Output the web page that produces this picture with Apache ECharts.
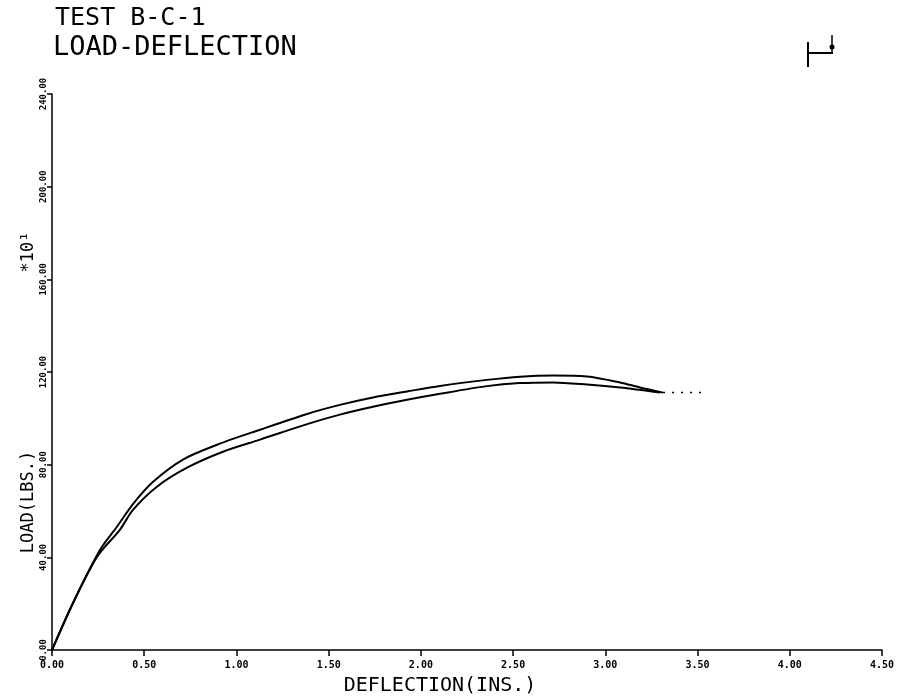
<!DOCTYPE html>
<html>
<head>
<meta charset="utf-8">
<script src="https://cdn.jsdelivr.net/npm/echarts@6/dist/echarts.min.js"></script>
<style>
  html, body { margin: 0; padding: 0; background: #fff; }
  #chart { width: 902px; height: 698px; }
</style>
</head>
<body>
<div id="chart"></div>
<script>
// ---- data (deflection in inches, load in lbs x10^1) ----
const titleLine1 = 'TEST B-C-1';
const titleLine2 = 'LOAD-DEFLECTION';
const xAxisName = 'DEFLECTION(INS.)';
const yAxisName = 'LOAD(LBS.)';
const yScaleNote = '*10¹';

const upperDefl = [0, 0.114, 0.26, 0.352, 0.439, 0.548, 0.71, 0.895, 1.128, 1.383, 1.561, 1.74, 1.925, 2.104, 2.358, 2.537, 2.716, 2.901, 3.08, 3.188, 3.313];
const upperLoad = [0, 20.3, 43.2, 53.2, 63.0, 72.6, 82.2, 88.6, 95.1, 101.9, 105.8, 109.0, 111.6, 114.0, 116.6, 118.0, 118.5, 118.1, 115.5, 113.3, 111.1];

const lowerDefl = [0, 0.114, 0.244, 0.369, 0.439, 0.569, 0.732, 0.927, 1.128, 1.383, 1.561, 1.74, 1.925, 2.104, 2.358, 2.537, 2.716, 2.901, 3.08, 3.297];
const lowerLoad = [0, 20.3, 40.2, 52.0, 60.5, 70.5, 78.7, 85.6, 90.8, 97.5, 101.6, 105.0, 108.0, 110.6, 113.9, 115.2, 115.5, 114.6, 113.3, 111.1];

const tailDefl = [3.313, 3.557];
const tailLoad = [111.1, 111.1];

const xTicks = [0, 0.5, 1, 1.5, 2, 2.5, 3, 3.5, 4, 4.5];
const yTicks = [0, 40, 80, 120, 160, 200, 240];

const zip = (a, b) => a.map((v, i) => [v, b[i]]);

const chart = echarts.init(document.getElementById('chart'), null, { renderer: 'canvas' });
const mono = 'DejaVu Sans Mono';

chart.setOption({
  animation: false,
  backgroundColor: '#fff',
  grid: { left: 52, right: 20, top: 94, bottom: 48, containLabel: false, outerBoundsMode: 'none' },
  xAxis: {
    type: 'value',
    min: xTicks[0], max: xTicks[xTicks.length - 1], interval: 0.5,
    axisLine: { show: true, onZero: false, lineStyle: { color: '#000', width: 1.5 } },
    axisTick: { show: true, inside: false, length: 6, lineStyle: { color: '#000', width: 1.5 } },
    splitLine: { show: false },
    axisLabel: {
      color: '#000', fontFamily: mono, fontSize: 10, fontWeight: 'bold', margin: 10,
      formatter: v => v.toFixed(2)
    }
  },
  yAxis: {
    type: 'value',
    min: yTicks[0], max: yTicks[yTicks.length - 1], interval: 40,
    axisLine: { show: true, onZero: false, lineStyle: { color: '#000', width: 1.5 } },
    axisTick: { show: true, inside: false, length: 5, lineStyle: { color: '#000', width: 1.5 } },
    splitLine: { show: false },
    axisLabel: {
      color: '#000', fontFamily: mono, fontSize: 9, fontWeight: 'bold', margin: 4, rotate: 90,
      formatter: v => v.toFixed(2)
    }
  },
  series: [
    {
      type: 'line', data: zip(upperDefl, upperLoad), showSymbol: false, smooth: 0.3,
      lineStyle: { color: '#000', width: 2 }, z: 3
    },
    {
      type: 'line', data: zip(lowerDefl, lowerLoad), showSymbol: false, smooth: 0.3,
      lineStyle: { color: '#000', width: 2 }, z: 3
    },
    {
      type: 'line', data: zip(tailDefl, tailLoad), showSymbol: false,
      lineStyle: { color: '#000', width: 1.5, type: [2, 7] }, z: 2
    }
  ],
  graphic: [
    { type: 'text', left: 55, top: 6, style: { text: titleLine1, font: '25px "DejaVu Sans Mono"', fill: '#000' } },
    { type: 'text', left: 53, top: 34, style: { text: titleLine2, font: '27px "DejaVu Sans Mono"', fill: '#000' } },
    { type: 'text', x: 440, y: 686, style: { text: xAxisName, font: '20px "DejaVu Sans Mono"', fill: '#000', align: 'center', verticalAlign: 'middle' } },
    { type: 'text', x: 29, y: 502, rotation: Math.PI / 2, style: { text: yAxisName, font: '17px "DejaVu Sans Mono"', fill: '#000', align: 'center', verticalAlign: 'middle' } },
    { type: 'text', x: 29, y: 252, rotation: Math.PI / 2, style: { text: yScaleNote, font: '17px "DejaVu Sans Mono"', fill: '#000', align: 'center', verticalAlign: 'middle' } },
    // small beam symbol at top right
    { type: 'line', shape: { x1: 808, y1: 42, x2: 808, y2: 67 }, style: { stroke: '#000', lineWidth: 2 } },
    { type: 'line', shape: { x1: 808, y1: 53, x2: 833, y2: 53 }, style: { stroke: '#000', lineWidth: 2 } },
    { type: 'line', shape: { x1: 832, y1: 35, x2: 832, y2: 53 }, style: { stroke: '#000', lineWidth: 1.5 } },
    { type: 'circle', shape: { cx: 832, cy: 47, r: 2.5 }, style: { fill: '#000' } }
  ]
});
</script>
</body>
</html>
